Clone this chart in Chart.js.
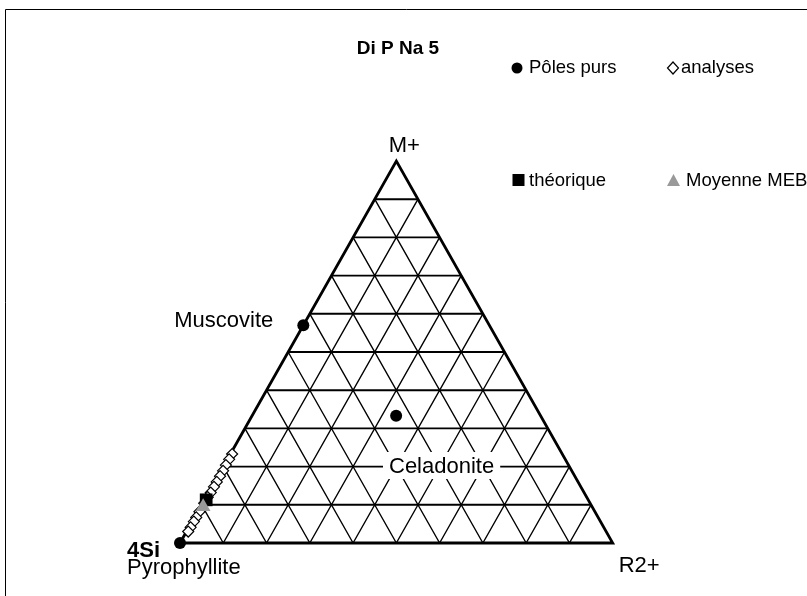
<!DOCTYPE html>
<html>
<head>
<meta charset="utf-8">
<script src="https://cdn.jsdelivr.net/npm/chart.js@4/dist/chart.umd.min.js"></script>
<style>
html,body{margin:0;padding:0;background:#fff;}
#wrap{position:relative;width:807px;height:596px;}
</style>
</head>
<body>
<div id="wrap"><canvas id="c"></canvas></div>
<script>
// ---- data (ternary fractions: M = M+, R = R2+, 4Si = 1 - M - R) ----
const title = 'Di P Na 5';
const vertexLabels = ['4Si', 'M+', 'R2+'];
const poleNames = ['Pyrophyllite', 'Muscovite', 'Celadonite'];
const poleM = [0, 0.57, 0.333];
const poleR = [0, 0, 0.333];
const analysesM = [0.233, 0.219, 0.204, 0.189, 0.175, 0.160, 0.147, 0.132, 0.120, 0.104, 0.082, 0.067, 0.056, 0.041, 0.030];
const analysesR = [0.004, 0.004, 0.004, 0.005, 0.005, 0.005, 0.005, 0.005, 0.004, 0.004, 0.004, 0.004, 0.004, 0.004, 0.004];
const theoM = [0.113];
const theoR = [0.004];
const mebM = [0.095];
const mebR = [0.006];
const legendLabels = ['Pôles purs', 'analyses', 'théorique', 'Moyenne MEB'];
const divisions = 10;

// ---- conversion to chart coordinates ----
const toXY = (M, R) => M.map((m, i) => ({x: R[i] + m / 2, y: m}));

const gridH = [], gridD = [];
for (let k = 1; k < divisions; k++) {
  const f = k / divisions;
  // constant M+
  gridH.push({x: f / 2, y: f}, {x: 1 - f / 2, y: f}, {x: NaN, y: NaN});
  // constant R2+
  gridD.push({x: f, y: 0}, {x: f + (1 - f) / 2, y: 1 - f}, {x: NaN, y: NaN});
  // constant 4Si
  gridD.push({x: 1 - f, y: 0}, {x: (1 - f) / 2, y: 1 - f}, {x: NaN, y: NaN});
}
const edgeData = [{x: 0, y: 0}, {x: 1, y: 0}, {x: 0.5, y: 1}, {x: 0, y: 0}];

const FONT = '"Liberation Sans", Arial, sans-serif';

const decor = {
  id: 'decor',
  beforeDraw(chart) {
    const ctx = chart.ctx;
    ctx.save();
    ctx.fillStyle = '#fff';
    ctx.fillRect(0, 0, chart.width, chart.height);
    ctx.strokeStyle = '#000';
    ctx.lineWidth = 1;
    ctx.beginPath();
    ctx.moveTo(5.5, 596);
    ctx.lineTo(5.5, 9.5);
    ctx.lineTo(807, 9.5);
    ctx.stroke();
    ctx.restore();
  },
  afterDatasetsDraw(chart) {
    const ctx = chart.ctx;
    const xs = chart.scales.x, ys = chart.scales.y;
    const px = (M, R) => xs.getPixelForValue(R + M / 2);
    const py = (M) => ys.getPixelForValue(M);
    ctx.save();
    ctx.fillStyle = '#000';
    ctx.textBaseline = 'alphabetic';
    // title
    ctx.font = 'bold 19px ' + FONT;
    ctx.textAlign = 'center';
    ctx.fillText(title, 398, 54);
    // vertex labels
    ctx.font = '22px ' + FONT;
    ctx.textAlign = 'center';
    ctx.fillText(vertexLabels[1], px(1, 0) + 8, py(1) - 9);
    ctx.textAlign = 'left';
    ctx.fillText(vertexLabels[2], px(0, 1) + 6, py(0) + 29);
    ctx.font = 'bold 22px ' + FONT;
    ctx.fillText(vertexLabels[0], 127, 557);
    ctx.font = '22px ' + FONT;
    ctx.fillText(poleNames[0], 127, 574);
    // Muscovite
    ctx.textAlign = 'right';
    ctx.fillText(poleNames[1], px(poleM[1], poleR[1]) - 30, py(poleM[1]) + 2);
    // Celadonite with white box
    ctx.textAlign = 'left';
    const cw = ctx.measureText(poleNames[2]).width;
    const cx = 389, cy = 473;
    ctx.fillStyle = '#fff';
    ctx.fillRect(cx - 6, cy - 21, cw + 12, 27);
    ctx.fillStyle = '#000';
    ctx.fillText(poleNames[2], cx, cy);
    // legend
    ctx.font = '18.5px ' + FONT;
    ctx.fillText(legendLabels[0], 529, 73);
    ctx.fillText(legendLabels[1], 681, 73);
    ctx.fillText(legendLabels[2], 529, 186);
    ctx.fillText(legendLabels[3], 686, 186);
    // legend markers
    ctx.beginPath(); ctx.arc(517, 68, 5.5, 0, Math.PI * 2); ctx.fill();
    ctx.beginPath();
    ctx.moveTo(673, 62); ctx.lineTo(678.5, 68); ctx.lineTo(673, 74); ctx.lineTo(667.5, 68); ctx.closePath();
    ctx.fillStyle = '#fff'; ctx.fill(); ctx.strokeStyle = '#000'; ctx.lineWidth = 1.2; ctx.stroke();
    ctx.fillStyle = '#000';
    ctx.fillRect(512.5, 174, 12, 12);
    ctx.fillStyle = '#999';
    ctx.beginPath(); ctx.moveTo(673.5, 174); ctx.lineTo(680, 186); ctx.lineTo(667, 186); ctx.closePath(); ctx.fill();
    ctx.restore();
  }
};

new Chart(document.getElementById('c'), {
  type: 'scatter',
  data: {
    datasets: [
      {data: gridD, showLine: true, spanGaps: false, borderColor: '#000', borderWidth: 1.4, pointRadius: 0, clip: false, order: 7},
      {data: gridH, showLine: true, spanGaps: false, borderColor: '#000', borderWidth: 1.9, pointRadius: 0, clip: false, order: 6},
      {data: edgeData, showLine: true, borderColor: '#000', borderWidth: 2.8, pointRadius: 0, clip: false, order: 5},
      {label: legendLabels[1], data: toXY(analysesM, analysesR), pointStyle: 'rectRot', pointRadius: 5.5, backgroundColor: '#fff', borderColor: '#000', borderWidth: 1.2, clip: false, order: 4},
      {label: legendLabels[2], data: toXY(theoM, theoR), pointStyle: 'rect', pointRadius: 9, backgroundColor: '#000', borderColor: '#000', borderWidth: 0, clip: false, order: 3},
      {label: legendLabels[3], data: toXY(mebM, mebR), pointStyle: 'triangle', pointRadius: 8.5, backgroundColor: '#999', borderColor: '#999', borderWidth: 0, clip: false, order: 2},
      {label: legendLabels[0], data: toXY(poleM, poleR), pointStyle: 'circle', pointRadius: 6, backgroundColor: '#000', borderColor: '#000', borderWidth: 0, clip: false, order: 1}
    ]
  },
  options: {
    responsive: true,
    maintainAspectRatio: false,
    animation: false,
    events: [],
    layout: {padding: {left: 180, right: 194.3, top: 161, bottom: 53}},
    scales: {
      x: {type: 'linear', min: 0, max: 1, display: false},
      y: {type: 'linear', min: 0, max: 1, display: false}
    },
    plugins: {legend: {display: false}, tooltip: {enabled: false}, title: {display: false}}
  },
  plugins: [decor]
});
</script>
</body>
</html>
